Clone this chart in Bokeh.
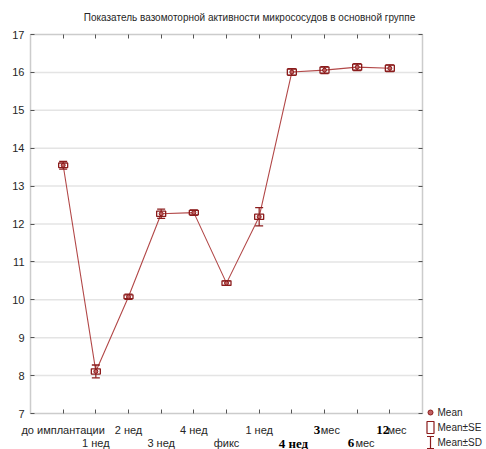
from bokeh.plotting import figure
from bokeh.models import Range1d, FixedTicker, LinearAxis, ColumnDataSource, BoxAnnotation
from bokeh.core.properties import value
from bokeh.embed import file_html
from bokeh.resources import INLINE

# ---- data ----
title_text = "Показатель вазомоторной активности микрососудов в основной группе"
categories = ["до имплантации", "1 нед", "2 нед", "3 нед", "4 нед", "фикс",
              "1 нед", "4 нед", "3 мес", "6 мес", "12мес"]
means = [13.55, 8.11, 10.08, 12.27, 12.30, 10.44, 12.19, 16.01, 16.06, 16.14, 16.11]
se = [0.06, 0.07, 0.05, 0.07, 0.06, 0.06, 0.07, 0.08, 0.08, 0.08, 0.08]
sd = [0.10, 0.17, 0.07, 0.12, 0.07, 0.06, 0.24, 0.09, 0.09, 0.09, 0.09]
y_ticks = list(range(7, 18))
legend_labels = ["Mean", "Mean±SE", "Mean±SD"]

xs = list(range(1, len(categories) + 1))
X_MIN, X_MAX = 0, len(categories) + 1
Y_MIN, Y_MAX = y_ticks[0], y_ticks[-1]

# ---- layout (pixels) ----
W, H = 486, 449
BOX_L, BOX_R, BOX_T, BOX_B = 30, 422, 34, 413
xpp = (X_MAX - X_MIN) / (BOX_R - BOX_L)
ypp = (Y_MAX - Y_MIN) / (BOX_B - BOX_T)


def x_at(px):
    return X_MIN + (px - BOX_L) * xpp


def y_at(py):
    return Y_MAX - (py - BOX_T) * ypp


SANS = "Liberation Sans"
SERIF = "Liberation Serif"
DARK = "#8b1c1c"
LINE = "#b24848"
TXT = "#262626"
FRAME = "#555555"

p = figure(width=W, height=H,
           x_range=Range1d(x_at(0), x_at(W)), y_range=Range1d(y_at(H), y_at(0)),
           output_backend="svg", toolbar_location=None,
           min_border_left=0, min_border_right=0, min_border_top=0, min_border_bottom=0)
p.title.visible = False
p.outline_line_color = None
p.background_fill_color = "white"
p.xgrid.visible = False
p.ygrid.visible = False

# grid lines inside the plot box
p.segment(x0=[X_MIN] * (len(y_ticks) - 2), x1=[X_MAX] * (len(y_ticks) - 2),
          y0=y_ticks[1:-1], y1=y_ticks[1:-1], line_color="#e4e4e4", line_width=1.5)

# plot box
p.add_layout(BoxAnnotation(left=X_MIN, right=X_MAX, bottom=Y_MIN, top=Y_MAX,
                           fill_alpha=0, line_color=FRAME, line_width=1.5, level="overlay"))

# left axis with labels, pinned to the plot box
yax = p.yaxis[0]
yax.fixed_location = X_MIN
yax.ticker = FixedTicker(ticks=y_ticks)
yax.bounds = (Y_MIN, Y_MAX)
yax.major_tick_in = 4
yax.major_tick_out = 0
yax.minor_tick_line_color = None
yax.axis_line_color = None
yax.major_tick_line_color = FRAME
yax.major_label_text_font = SANS
yax.major_label_text_font_size = "11px"
yax.major_label_text_color = TXT
yax.major_label_standoff = 6

# bottom / top / right tick marks on the plot box
xax = p.xaxis[0]
xax.fixed_location = Y_MIN
xax.ticker = FixedTicker(ticks=[], minor_ticks=xs)
xax.major_tick_in = 0
xax.major_tick_out = 0
xax.minor_tick_in = 4
xax.minor_tick_out = 0
xax.minor_tick_line_color = FRAME
xax.axis_line_color = None

top = LinearAxis(fixed_location=Y_MAX, ticker=FixedTicker(ticks=[], minor_ticks=xs),
                 major_tick_in=0, major_tick_out=0, minor_tick_in=4, minor_tick_out=0,
                 minor_tick_line_color=FRAME, axis_line_color=None)
p.add_layout(top, "above")
right = LinearAxis(fixed_location=X_MAX, ticker=FixedTicker(ticks=[], minor_ticks=y_ticks),
                   major_tick_in=0, major_tick_out=0, minor_tick_in=4, minor_tick_out=0,
                   minor_tick_line_color=FRAME, axis_line_color=None)
p.add_layout(right, "right")

# title
p.text(x=[x_at(249)], y=[y_at(17)], text=[title_text], text_align="center",
       text_baseline="middle", text_font=value(SANS), text_font_size="10px", text_color=TXT)

# ---- category labels in two staggered rows ----
row_y = [y_at(429), y_at(442.5)]
unit_shift = {8: (-0.23, 0.18), 9: (-0.19, 0.24), 10: (-0.22, 0.22)}  # number / unit offsets
sans_x, sans_y, sans_t = [], [], []
bold_x, bold_y, bold_t = [], [], []
for i, (xv, lab) in enumerate(zip(xs, categories)):
    yv = row_y[i % 2]
    if lab.endswith("мес"):
        num = lab.replace("мес", "").strip()
        dn, du = unit_shift[i]
        bold_x.append(xv + dn); bold_y.append(yv); bold_t.append(num)
        sans_x.append(xv + du); sans_y.append(yv); sans_t.append("мес")
    elif i == 7:
        bold_x.append(xv + 0.05); bold_y.append(yv); bold_t.append(lab)
    else:
        sans_x.append(xv); sans_y.append(yv); sans_t.append(lab)

p.text(x=sans_x, y=sans_y, text=sans_t, text_align="center", text_baseline="middle",
       text_font=value(SANS), text_font_size="11px", text_color=TXT)
p.text(x=bold_x, y=bold_y, text=bold_t, text_align="center", text_baseline="middle",
       text_font=value(SERIF), text_font_style="bold", text_font_size="13px",
       text_color="black")

# ---- data marks ----
src = ColumnDataSource(dict(
    x=xs, m=means,
    h_se=[2 * s for s in se],
    lo_sd=[m - s for m, s in zip(means, sd)], hi_sd=[m + s for m, s in zip(means, sd)],
))

p.line("x", "m", source=src, line_color=LINE, line_width=1.1)
p.segment(x0="x", y0="lo_sd", x1="x", y1="hi_sd", source=src, line_color=DARK, line_width=1.2)
p.scatter("x", "lo_sd", source=src, marker="dash", size=8, line_color=DARK, line_width=1.3)
p.scatter("x", "hi_sd", source=src, marker="dash", size=8, line_color=DARK, line_width=1.3)
p.rect(x="x", y="m", width=9, width_units="screen", height="h_se", source=src,
       fill_color=None, line_color=DARK, line_width=1.3)
p.scatter("x", "m", source=src, marker="circle", size=4, fill_color="#c06060",
          line_color=DARK, line_width=1)

# ---- legend (drawn beside the plot box, lower right) ----
LG_X, LG_TX = 430, 437
LG_Y = [412, 427, 442]
p.scatter(x=[x_at(LG_X)], y=[y_at(LG_Y[0])], marker="circle", size=5, fill_color="#c06060",
          line_color=DARK, line_width=1)
p.rect(x=[x_at(LG_X)], y=[y_at(LG_Y[1])], width=7, height=12, width_units="screen",
       height_units="screen", fill_color=None, line_color=DARK, line_width=1.2)
p.segment(x0=[x_at(LG_X)], x1=[x_at(LG_X)], y0=[y_at(LG_Y[2] - 6)], y1=[y_at(LG_Y[2] + 6)],
          line_color=DARK, line_width=1.2)
p.scatter(x=[x_at(LG_X)] * 2, y=[y_at(LG_Y[2] - 6), y_at(LG_Y[2] + 6)], marker="dash",
          size=7, line_color=DARK, line_width=1.2)
p.text(x=[x_at(LG_TX)] * 3, y=[y_at(v) for v in LG_Y], text=legend_labels,
       text_align="left", text_baseline="middle", text_font=value(SANS),
       text_font_size="10px", text_color=TXT)

open("out.html", "w").write(file_html(p, INLINE))
